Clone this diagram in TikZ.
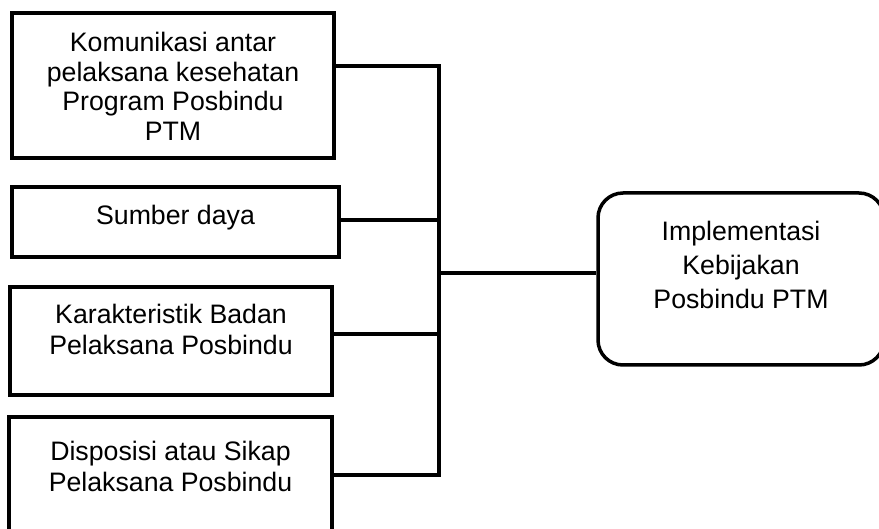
\documentclass[tikz,border=0pt]{standalone}
\usepackage{fontspec}
\setmainfont{Liberation Sans}
\newcommand{\boxtext}[2]{\smash{\raisebox{#1}{\begin{tabular}{@{}c@{}}#2\end{tabular}}}}
\begin{document}
\begin{tikzpicture}[x=1pt,y=-1pt,
  box/.style={draw, line width=3.5pt, inner sep=0pt, font=\fontsize{26.7}{31}\selectfont},
  rbox/.style={box, rounded corners=25pt, font=\fontsize{26.7}{34}\selectfont},
  conn/.style={line width=3.5pt}]
\clip (0,0) rectangle (879,529);
\node[box, minimum width=322pt, minimum height=145pt, font=\fontsize{26.7}{29.5}\selectfont] (b1) at (173,85.5)
  {\boxtext{-11pt}{Komunikasi antar\\pelaksana kesehatan\\Program Posbindu\\PTM}};
\node[box, minimum width=327pt, minimum height=70pt] (b2) at (175.5,222)
  {\boxtext{-3pt}{Sumber daya}};
\node[box, minimum width=322pt, minimum height=108pt] (b3) at (171,341)
  {\boxtext{2pt}{Karakteristik Badan\\Pelaksana Posbindu}};
\node[box, minimum width=323pt, minimum height=128pt] (b4) at (170.5,481)
  {\boxtext{5.3pt}{Disposisi atau Sikap\\Pelaksana Posbindu}};
\node[rbox, minimum width=286pt, minimum height=172pt] (r) at (741,279)
  {\boxtext{5.3pt}{Implementasi\\Kebijakan\\Posbindu PTM}};
\coordinate (j1) at (439,66);
\coordinate (j2) at (439,220);
\coordinate (j3) at (439,334);
\coordinate (j4) at (439,475);
\coordinate (jr) at (439,273);
\draw[conn] (b1.east |- j1) -- (j1) -- (j4) -- (b4.east |- j4);
\draw[conn] (b2.east |- j2) -- (j2);
\draw[conn] (b3.east |- j3) -- (j3);
\draw[conn] (jr) -- (r.west |- jr);
\end{tikzpicture}
\end{document}
